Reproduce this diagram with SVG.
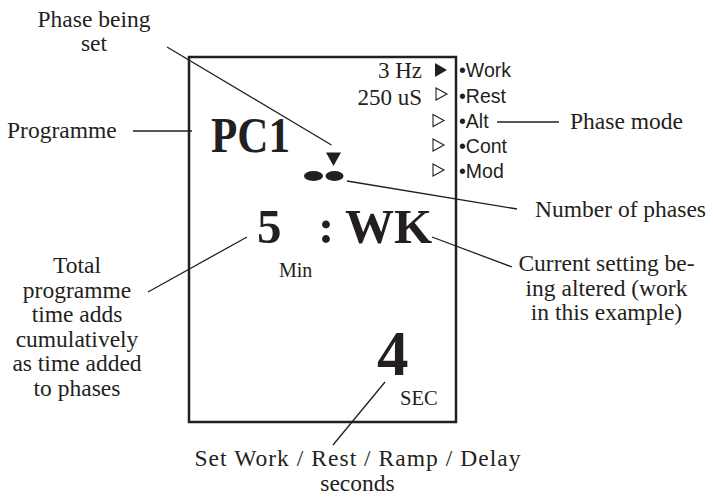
<svg xmlns="http://www.w3.org/2000/svg" width="713" height="499" viewBox="0 0 713 499">
<style>
.s{font-family:"Liberation Serif","Times New Roman",serif;fill:#231f20;font-size:23.5px}
.b{font-family:"Liberation Serif","Times New Roman",serif;font-weight:bold;fill:#231f20}
.a{font-family:"Liberation Sans",Arial,sans-serif;fill:#231f20;font-size:19.5px}
.c{text-anchor:middle}
.l{stroke:#231f20;stroke-width:1.3;fill:none}
.t{fill:none;stroke:#231f20;stroke-width:1.1}
</style>
<rect width="713" height="499" fill="#fff"/>
<g id="display">
<rect x="189" y="57" width="267" height="365" fill="none" stroke="#231f20" stroke-width="2.5"/>
<text class="s" x="422" y="77.5" style="font-size:23px" text-anchor="end">3 Hz</text>
<text class="s" x="422" y="104.5" style="font-size:23px" text-anchor="end">250 uS</text>
<polygon points="435,63 447,70 435,77" fill="#231f20"/>
<polygon class="t" points="436,88 447,94 436,100"/>
<polygon class="t" points="433,114.5 444,120.5 433,126.5"/>
<polygon class="t" points="433,139 444,145 433,151"/>
<polygon class="t" points="433,164 444,170 433,176"/>
<text class="a" x="459" y="77">•Work</text>
<text class="a" x="459" y="102.5">•Rest</text>
<text class="a" x="459" y="127.5">•Alt</text>
<text class="a" x="459" y="153">•Cont</text>
<text class="a" x="459" y="178">•Mod</text>
<text class="b" x="211" y="152" font-size="50" textLength="79" lengthAdjust="spacingAndGlyphs">PC1</text>
<polygon points="326,152.5 341,152.5 333.5,166" fill="#231f20"/>
<ellipse cx="313.5" cy="176" rx="9.5" ry="5" fill="#231f20"/>
<ellipse cx="334.5" cy="176" rx="9" ry="5" fill="#231f20"/>
<text class="b" x="257" y="243" font-size="49">5</text>
<text class="b" x="318" y="243" font-size="49">:</text>
<text class="b" x="345" y="243" font-size="49">WK</text>
<text class="s" x="279" y="277" style="font-size:20px">Min</text>
<text class="b" x="377" y="375" font-size="63">4</text>
<text class="s" x="400" y="405" style="font-size:20.5px">SEC</text>
</g>
<g id="connectors">
<line class="l" x1="167" y1="47" x2="331.5" y2="145"/>
<line class="l" x1="133" y1="131" x2="192" y2="131"/>
<line class="l" x1="497" y1="122" x2="559" y2="122"/>
<line class="l" x1="347" y1="181" x2="517" y2="209"/>
<line class="l" x1="432" y1="237" x2="512" y2="267"/>
<line class="l" x1="247" y1="237" x2="148" y2="292"/>
<line class="l" x1="385" y1="382" x2="333" y2="445"/>
</g>
<g id="label-phase-being-set">
<text class="s c" x="94" y="26.5">Phase being</text>
<text class="s c" x="94" y="51">set</text>
</g>
<g id="label-programme">
<text class="s" x="7" y="138">Programme</text>
</g>
<g id="label-phase-mode">
<text class="s" x="570" y="128.5">Phase mode</text>
</g>
<g id="label-number-of-phases">
<text class="s" x="535" y="216.5">Number of phases</text>
</g>
<g id="label-current-setting">
<text class="s c" x="606.5" y="271">Current setting be-</text>
<text class="s c" x="606.5" y="295.5">ing altered (work</text>
<text class="s c" x="606.5" y="320">in this example)</text>
</g>
<g id="label-total">
<text class="s c" x="77" y="273">Total</text>
<text class="s c" x="77" y="297.5">programme</text>
<text class="s c" x="77" y="322">time adds</text>
<text class="s c" x="77" y="346.5">cumulatively</text>
<text class="s c" x="77" y="371">as time added</text>
<text class="s c" x="77" y="395.5">to phases</text>
</g>
<g id="label-set-seconds">
<text class="s c" x="357.5" y="466" textLength="326">Set Work / Rest / Ramp / Delay</text>
<text class="s c" x="357.5" y="491">seconds</text>
</g>
</svg>
